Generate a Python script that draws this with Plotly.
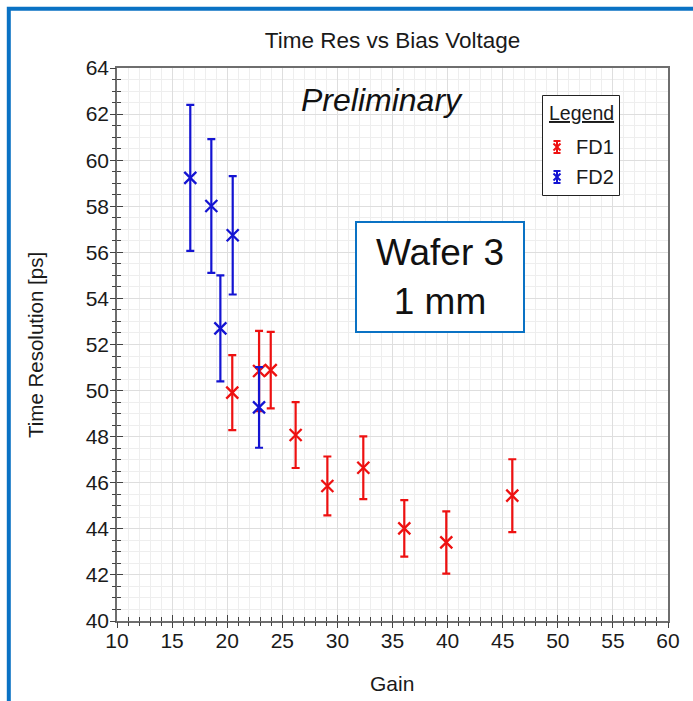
import plotly.graph_objects as go

# FD1 measurements: gain, time resolution [ps], uncertainty [ps]
fd1_gain = [20.46, 22.89, 23.95, 26.21, 29.09, 32.35, 36.07, 39.88, 45.87]
fd1_res = [49.91, 50.85, 50.89, 48.07, 45.86, 46.65, 44.02, 43.41, 45.44]
fd1_err = [1.63, 1.74, 1.66, 1.43, 1.28, 1.36, 1.23, 1.35, 1.58]

# FD2 measurements
fd2_gain = [16.65, 18.56, 19.38, 20.50, 22.89]
fd2_res = [59.23, 58.01, 52.70, 56.74, 49.27]
fd2_err = [3.17, 2.90, 2.30, 2.57, 1.75]

x_range = [10, 60]
y_range = [40, 64]

FONT = "Liberation Sans, Arial, sans-serif"
RED = "#ee1111"
BLUE = "#1414d2"
FRAME_BLUE = "#0a72c4"
AXIS_GREY = "#6e6e6e"
TEXT = "#1a1a1a"

W, H = 693, 701
ML, MR, MT, MB = 117, 25, 68, 80
PW, PH = W - ML - MR, H - MT - MB


def fx(px):
    """pixel column -> paper x"""
    return (px - ML) / PW


def fy(py):
    """pixel row -> paper y"""
    return (H - MB - py) / PH


fig = go.Figure()

series = [("FD1", fd1_gain, fd1_res, fd1_err, RED),
          ("FD2", fd2_gain, fd2_res, fd2_err, BLUE)]

for name, xs, ys, errs, color in series:
    fig.add_trace(go.Scatter(
        x=xs, y=ys, name=name, mode="markers", showlegend=False,
        marker=dict(symbol="x-thin-open", size=12, color=color,
                    line=dict(color=color, width=2.3)),
        error_y=dict(type="data", array=errs, visible=True,
                     color=color, thickness=2.2, width=4),
    ))

axis_common = dict(
    showline=True, linecolor=AXIS_GREY, linewidth=1.5, mirror=True,
    gridcolor="#dedede", gridwidth=1, zeroline=False, automargin=False,
    ticks="inside", ticklen=6, tickwidth=1.3, tickcolor="#444",
    tickfont=dict(family=FONT, size=21, color=TEXT),
)

fig.update_xaxes(
    range=x_range, dtick=5, tick0=10,
    minor=dict(dtick=1, ticks="inside", ticklen=4, tickwidth=1.1,
               tickcolor="#444", showgrid=True, gridcolor="#eeeeee"),
    **axis_common,
)
fig.update_yaxes(
    range=y_range, dtick=2, tick0=40, ticklabelstandoff=2,
    minor=dict(dtick=0.5, ticks="inside", ticklen=4, tickwidth=1.1,
               tickcolor="#444", showgrid=True, gridcolor="#eeeeee"),
    **axis_common,
)

# Companion axes carrying the outward half of each tick, so ticks cross the frame
outer = dict(showline=False, showgrid=False, zeroline=False, showticklabels=False,
             automargin=False, ticks="outside", ticklen=6, tickwidth=1.3,
             tickcolor="#444")
fig.update_layout(
    xaxis2=dict(overlaying="x", matches="x", range=x_range, dtick=5, tick0=10,
                minor=dict(dtick=1, ticks="outside", ticklen=4, tickwidth=1.1,
                           tickcolor="#444", showgrid=False),
                side="bottom", **outer),
    yaxis2=dict(overlaying="y", matches="y", range=y_range, dtick=2, tick0=40,
                minor=dict(dtick=0.5, ticks="outside", ticklen=4, tickwidth=1.1,
                           tickcolor="#444", showgrid=False),
                side="left", **outer),
)
fig.add_trace(go.Scatter(x=[None], y=[None], xaxis="x2", yaxis="y2",
                         showlegend=False, hoverinfo="skip"))

fig.update_layout(
    width=W, height=H,
    margin=dict(l=ML, r=MR, t=MT, b=MB),
    paper_bgcolor="white", plot_bgcolor="white",
    showlegend=False,
    title=dict(text="Time Res vs Bias Voltage", x=0.5, xref="paper",
               y=1 - 40 / H, yanchor="middle",
               font=dict(family=FONT, size=22.5, color=TEXT)),
)

# Axis titles
fig.add_annotation(text="Gain", xref="paper", yref="paper",
                   x=fx(392), y=fy(683), xanchor="center", yanchor="middle",
                   showarrow=False, font=dict(family=FONT, size=21, color=TEXT))
fig.add_annotation(text="Time Resolution [ps]", xref="paper", yref="paper",
                   x=fx(35), y=fy(345), xanchor="center", yanchor="middle",
                   textangle=-90, showarrow=False,
                   font=dict(family=FONT, size=20.5, color=TEXT))

# Watermark and sample label
fig.add_annotation(text="<i>Preliminary</i>", xref="paper", yref="paper",
                   x=fx(382), y=fy(100), xanchor="center", yanchor="middle",
                   showarrow=False, font=dict(family=FONT, size=32, color="#111"))
fig.add_annotation(text="Wafer 3<br>1 mm", xref="paper", yref="paper",
                   x=fx(440), y=fy(277), xanchor="center", yanchor="middle",
                   showarrow=False,
                   width=164, height=106, borderpad=1, borderwidth=2,
                   bordercolor=FRAME_BLUE, bgcolor="white",
                   font=dict(family=FONT, size=37, color="#111"))

# Legend box
fig.add_shape(type="rect", xref="paper", yref="paper",
              x0=fx(542.5), x1=fx(619.5), y0=fy(195.5), y1=fy(95.5),
              line=dict(color="#222", width=1), fillcolor="white", layer="above")
fig.add_annotation(text="<span style='text-decoration:underline'>Legend</span>",
                   xref="paper", yref="paper", x=fx(581), y=fy(113),
                   xanchor="center", yanchor="middle", showarrow=False,
                   font=dict(family=FONT, size=19.5, color=TEXT))
for (name, _, _, _, color), cy in zip(series, [147, 177]):
    cx = 557
    icon = [
        (cx - 3.5, cy - 6, cx + 3.5, cy - 6),   # top cap
        (cx - 3.5, cy + 6, cx + 3.5, cy + 6),   # bottom cap
        (cx, cy - 6, cx, cy + 6),               # bar
        (cx - 3.5, cy - 3.5, cx + 3.5, cy + 3.5),
        (cx - 3.5, cy + 3.5, cx + 3.5, cy - 3.5),
    ]
    for x0, y0, x1, y1 in icon:
        fig.add_shape(type="line", xref="paper", yref="paper",
                      x0=fx(x0), y0=fy(y0), x1=fx(x1), y1=fy(y1),
                      line=dict(color=color, width=2), layer="above")
    fig.add_annotation(text=name, xref="paper", yref="paper",
                       x=fx(574), y=fy(cy), xanchor="left", yanchor="middle",
                       showarrow=False, font=dict(family=FONT, size=20, color=TEXT))

# Page frame along the left and top edges
fig.add_shape(type="path", xref="paper", yref="paper",
              path=f"M {fx(8.8)},{fy(720)} L {fx(8.8)},{fy(8.8)} L {fx(720)},{fy(8.8)}",
              line=dict(color=FRAME_BLUE, width=4), layer="above")

fig.write_html("out.html")
